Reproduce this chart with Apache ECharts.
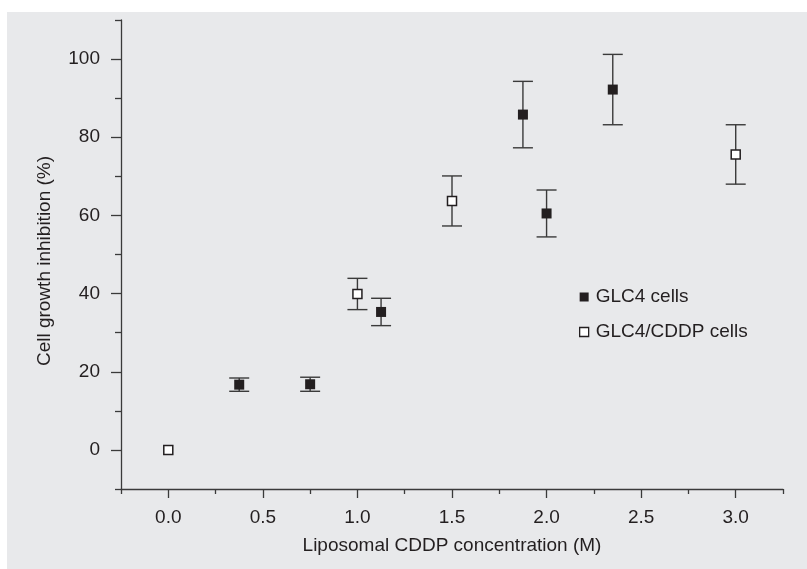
<!DOCTYPE html>
<html><head><meta charset="utf-8">
<script src="https://cdn.jsdelivr.net/npm/echarts@6/dist/echarts.min.js"></script>
<style>html,body{margin:0;padding:0;background:#fff}#c{width:807px;height:569px}</style>
</head><body><div id="c"></div>
<script>
// Axis ticks
const xMajorTicks = [0, 0.5, 1, 1.5, 2, 2.5, 3];
const xMinorTicks = [-0.25, 0.25, 0.75, 1.25, 1.75, 2.25, 2.75, 3.25];
const yMajorTicks = [0, 20, 40, 60, 80, 100];
const yMinorTicks = [-10, 10, 30, 50, 70, 90, 110];

// GLC4 cells (filled squares)
const glc4X   = [0.375, 0.75, 1.125, 1.875, 2.0, 2.35];
const glc4Y   = [16.7, 16.8, 35.3, 85.8, 60.5, 92.2];
const glc4Err = [1.7, 1.8, 3.5, 8.5, 6.0, 9.0];

// GLC4/CDDP cells (open squares)
const cddpX   = [0.0, 1.0, 1.5, 3.0];
const cddpY   = [0.0, 39.9, 63.7, 75.6];
const cddpErr = [0, 4.0, 6.4, 7.6];

const FONT = 'Liberation Sans';
const INK = '#231f20';
const AXIS = '#3a3a3a';

function pts(xs, ys) { return xs.map((x, i) => [x, ys[i]]); }
function errs(xs, ys, es) {
  return xs.map((x, i) => [x, ys[i] - es[i], ys[i] + es[i], es[i]]).filter(d => d[3] > 0);
}
function errRender(params, api) {
  const x = api.value(0), lo = api.value(1), hi = api.value(2);
  const t = api.coord([x, hi]), b = api.coord([x, lo]);
  const hw = 10;
  const st = { stroke: AXIS, lineWidth: 1.4 };
  return { type: 'group', children: [
    { type: 'line', shape: { x1: t[0], y1: t[1], x2: b[0], y2: b[1] }, style: st },
    { type: 'line', shape: { x1: t[0] - hw, y1: t[1], x2: t[0] + hw, y2: t[1] }, style: st },
    { type: 'line', shape: { x1: b[0] - hw, y1: b[1], x2: b[0] + hw, y2: b[1] }, style: st }
  ]};
}

const chart = echarts.init(document.getElementById('c'), null, { renderer: 'canvas' });
chart.setOption({
  backgroundColor: '#ffffff',
  animation: false,
  graphic: [{ type: 'rect', z: -10, silent: true, shape: { x: 7, y: 12, width: 820, height: 580 }, style: { fill: '#e8e9eb' } }],
  grid: { left: 121, right: 24, top: 20, bottom: 80 },
  xAxis: [
    { type: 'value', min: -0.25, max: 3.25, position: 'bottom',
      name: 'Liposomal CDDP concentration (M)', nameLocation: 'middle', nameGap: 47, nameMoveOverlap: false,
      nameTextStyle: { fontFamily: FONT, fontSize: 19, color: INK },
      axisLine: { onZero: false, lineStyle: { color: AXIS, width: 1.3 } },
      axisTick: { customValues: xMajorTicks, length: 9, lineStyle: { color: AXIS, width: 1.3 } },
      axisLabel: { customValues: xMajorTicks, margin: 19, fontFamily: FONT, fontSize: 19, color: INK,
        formatter: v => Number(v).toFixed(1) },
      splitLine: { show: false } },
    { type: 'value', min: -0.25, max: 3.25, position: 'bottom',
      axisLine: { show: false, onZero: false },
      axisTick: { customValues: xMinorTicks, length: 5, lineStyle: { color: AXIS, width: 1.3 } },
      axisLabel: { show: false }, splitLine: { show: false } }
  ],
  yAxis: [
    { type: 'value', min: -10, max: 110, position: 'left',
      name: 'Cell growth inhibition (%)', nameLocation: 'middle', nameGap: 67, nameMoveOverlap: false,
      nameTextStyle: { fontFamily: FONT, fontSize: 19, color: INK, padding: [0, 13, 0, 0] },
      axisLine: { onZero: false, lineStyle: { color: AXIS, width: 1.3 } },
      axisTick: { customValues: yMajorTicks, length: 10, lineStyle: { color: AXIS, width: 1.3 } },
      axisLabel: { customValues: yMajorTicks, margin: 21, fontFamily: FONT, fontSize: 19, color: INK },
      splitLine: { show: false } },
    { type: 'value', min: -10, max: 110, position: 'left',
      axisLine: { show: false, onZero: false },
      axisTick: { customValues: yMinorTicks, length: 6, lineStyle: { color: AXIS, width: 1.3 } },
      axisLabel: { show: false }, splitLine: { show: false } }
  ],
  legend: {
    orient: 'vertical', left: 579, top: 287.5, padding: 0, itemWidth: 9, itemHeight: 9, itemGap: 16,
    textStyle: { fontFamily: FONT, fontSize: 19, color: INK, padding: [0, 0, 0, 2] },
    data: [
      { name: 'GLC4 cells', icon: 'rect', itemStyle: { color: INK, borderWidth: 0 } },
      { name: 'GLC4/CDDP cells', icon: 'rect', itemStyle: { color: '#ffffff', borderColor: INK, borderWidth: 1.3 } }
    ]
  },
  series: [
    { type: 'custom', name: 'err1', renderItem: errRender, data: errs(glc4X, glc4Y, glc4Err), z: 1, silent: true },
    { type: 'custom', name: 'err2', renderItem: errRender, data: errs(cddpX, cddpY, cddpErr), z: 1, silent: true },
    { type: 'scatter', name: 'GLC4 cells', symbol: 'rect', symbolSize: 10, z: 5,
      itemStyle: { color: INK, opacity: 1 }, data: pts(glc4X, glc4Y) },
    { type: 'scatter', name: 'GLC4/CDDP cells', symbol: 'rect', symbolSize: 9, z: 5,
      itemStyle: { color: '#ffffff', borderColor: INK, borderWidth: 1.5, opacity: 1 }, data: pts(cddpX, cddpY) }
  ]
});
</script>
</body></html>
